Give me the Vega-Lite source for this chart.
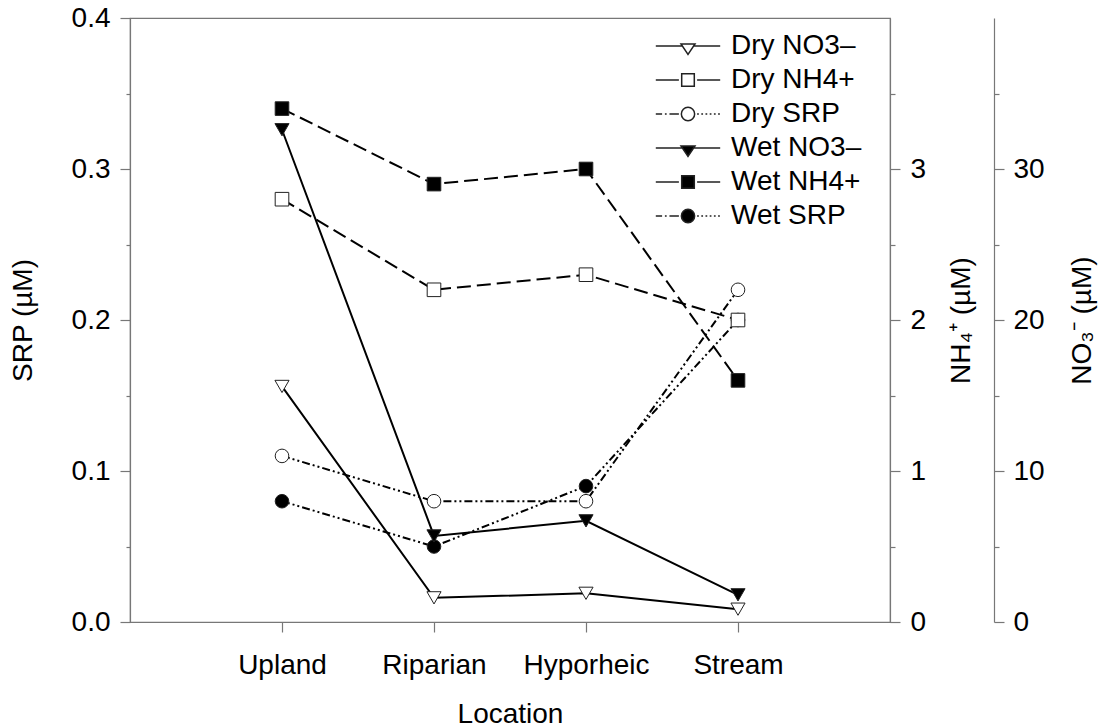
{
  "$schema": "https://vega.github.io/schema/vega-lite/v6.json",
  "width": 760,
  "height": 604,
  "autosize": {"type": "none"},
  "padding": {"left": 130, "top": 18, "right": 214, "bottom": 106},
  "background": "white",
  "config": {
    "view": {"stroke": "#777", "strokeWidth": 1.2},
    "font": "Liberation Sans",
    "axis": {
      "grid": false,
      "labelFont": "Liberation Sans",
      "labelFontSize": 28,
      "labelColor": "#000",
      "titleFont": "Liberation Sans",
      "titleFontSize": 28,
      "titleFontWeight": "normal",
      "titleColor": "#000",
      "domainColor": "#777",
      "tickColor": "#777",
      "domainWidth": 1.2,
      "tickWidth": 1.2
    },
    "legend": {
      "title": null,
      "orient": "none",
      "legendX": 544,
      "legendY": 14,
      "padding": 0,
      "labelFont": "Liberation Sans",
      "labelFontSize": 28,
      "labelColor": "#000",
      "symbolSize": 196,
      "labelOffset": 29,
      "rowPadding": 6
    }
  },
  "datasets": {
    "nutrients": [
      {"location": "Upland", "series": "Dry SRP", "nutrient": "SRP", "value": 0.11},
      {"location": "Riparian", "series": "Dry SRP", "nutrient": "SRP", "value": 0.08},
      {"location": "Hyporheic", "series": "Dry SRP", "nutrient": "SRP", "value": 0.08},
      {"location": "Stream", "series": "Dry SRP", "nutrient": "SRP", "value": 0.22},
      {"location": "Upland", "series": "Wet SRP", "nutrient": "SRP", "value": 0.08},
      {"location": "Riparian", "series": "Wet SRP", "nutrient": "SRP", "value": 0.05},
      {"location": "Hyporheic", "series": "Wet SRP", "nutrient": "SRP", "value": 0.09},
      {"location": "Stream", "series": "Wet SRP", "nutrient": "SRP", "value": 0.2},
      {"location": "Upland", "series": "Dry NH4+", "nutrient": "NH4", "value": 2.8},
      {"location": "Riparian", "series": "Dry NH4+", "nutrient": "NH4", "value": 2.2},
      {"location": "Hyporheic", "series": "Dry NH4+", "nutrient": "NH4", "value": 2.3},
      {"location": "Stream", "series": "Dry NH4+", "nutrient": "NH4", "value": 2.0},
      {"location": "Upland", "series": "Wet NH4+", "nutrient": "NH4", "value": 3.4},
      {"location": "Riparian", "series": "Wet NH4+", "nutrient": "NH4", "value": 2.9},
      {"location": "Hyporheic", "series": "Wet NH4+", "nutrient": "NH4", "value": 3.0},
      {"location": "Stream", "series": "Wet NH4+", "nutrient": "NH4", "value": 1.6},
      {"location": "Upland", "series": "Dry NO3–", "nutrient": "NO3", "value": 15.6},
      {"location": "Riparian", "series": "Dry NO3–", "nutrient": "NO3", "value": 1.6},
      {"location": "Hyporheic", "series": "Dry NO3–", "nutrient": "NO3", "value": 1.9},
      {"location": "Stream", "series": "Dry NO3–", "nutrient": "NO3", "value": 0.85},
      {"location": "Upland", "series": "Wet NO3–", "nutrient": "NO3", "value": 32.6},
      {"location": "Riparian", "series": "Wet NO3–", "nutrient": "NO3", "value": 5.7},
      {"location": "Hyporheic", "series": "Wet NO3–", "nutrient": "NO3", "value": 6.7},
      {"location": "Stream", "series": "Wet NO3–", "nutrient": "NO3", "value": 1.8}
    ]
  },
  "data": {"name": "nutrients"},
  "encoding": {
    "x": {
      "field": "location",
      "type": "nominal",
      "sort": ["Upland", "Riparian", "Hyporheic", "Stream"],
      "scale": {"type": "point", "padding": 1, "domain": ["Upland", "Riparian", "Hyporheic", "Stream"]},
      "axis": {"title": "Location", "labelAngle": 0, "tickSize": 10, "labelPadding": 19, "titlePadding": 21}
    }
  },
  "layer": [
    {
      "transform": [{"filter": "datum.nutrient === 'SRP'"}],
      "encoding": {
        "y": {
          "field": "value",
          "type": "quantitative",
          "scale": {"domain": [0, 0.4], "nice": false, "zero": true},
          "axis": {
            "orient": "left",
            "title": "SRP (µM)",
            "values": [0, 0.05, 0.1, 0.15, 0.2, 0.25, 0.3, 0.35, 0.4],
            "labelExpr": "round(datum.value*100) % 10 == 0 ? format(datum.value, '.1f') : ''",
            "tickSize": {"condition": {"test": "round(datum.value*100) % 10 == 0", "value": 10}, "value": 4},
            "labelPadding": 10,
            "titlePadding": 34
          }
        }
      },
      "layer": [
        {
          "mark": {"type": "line", "color": "black", "strokeWidth": 2, "strokeDash": [8, 3, 2, 3, 2, 3]},
          "encoding": {"detail": {"field": "series", "type": "nominal"}}
        },
        {
          "mark": {"type": "point", "shape": "circle", "filled": true, "size": 185, "stroke": "#222", "strokeWidth": 1, "opacity": 1},
          "encoding": {
            "fill": {
              "field": "series", "type": "nominal",
              "scale": {
                "domain": ["Dry NO3–", "Dry NH4+", "Dry SRP", "Wet NO3–", "Wet NH4+", "Wet SRP"],
                "range": ["white", "white", "white", "black", "black", "black"]
              },
              "legend": {
                "encode": {
                  "symbols": {
                    "stroke": {"value": "black"},
                    "strokeWidth": {"value": 1.8},
                    "opacity": {"value": 1}
                  }
                }
              }
            }
          }
        },
        {
          "transform": [{"filter": "datum.value < 0"}],
          "mark": {"type": "point", "filled": true, "size": 170, "stroke": "black", "strokeWidth": 1.8, "opacity": 1},
          "encoding": {
            "shape": {
              "field": "series", "type": "nominal",
              "scale": {
                "domain": ["Dry NO3–", "Dry NH4+", "Dry SRP", "Wet NO3–", "Wet NH4+", "Wet SRP"],
                "range": [
                  "M-4.6,0H-0.8M0.8,0H4.6M-1,-0.3L1,-0.3L0,1.2Z",
                  "M-4.6,0H-1.3M1.3,0H4.6M-0.9,-0.9H0.9V0.9H-0.9Z",
                  "M-4.6,0H-3.7M-3.3,0H-3.05M-2.65,0H-1.3M1.3,0H1.55M1.9,0H2.15M2.5,0H2.75M3.1,0H3.35M3.7,0H3.95M4.3,0H4.55M-0.95,0A0.95,0.95,0,1,0,0.95,0A0.95,0.95,0,1,0,-0.95,0Z",
                  "M-4.6,0H-0.8M0.8,0H4.6M-1,-0.3L1,-0.3L0,1.2Z",
                  "M-4.6,0H-1.3M1.3,0H4.6M-0.9,-0.9H0.9V0.9H-0.9Z",
                  "M-4.6,0H-3.7M-3.3,0H-3.05M-2.65,0H-1.3M1.3,0H1.55M1.9,0H2.15M2.5,0H2.75M3.1,0H3.35M3.7,0H3.95M4.3,0H4.55M-0.95,0A0.95,0.95,0,1,0,0.95,0A0.95,0.95,0,1,0,-0.95,0Z"
                ]
              },
              "legend": {
                "encode": {
                  "symbols": {
                    "stroke": {"value": "black"},
                    "strokeWidth": {"value": 1.8},
                    "opacity": {"value": 1}
                  }
                }
              }
            },
            "fill": {"field": "series", "type": "nominal"}
          }
        }
      ]
    },
    {
      "transform": [{"filter": "datum.nutrient === 'NH4'"}],
      "encoding": {
        "y": {
          "field": "value",
          "type": "quantitative",
          "scale": {"domain": [0, 4], "nice": false, "zero": true},
          "axis": {
            "orient": "right",
            "title": "NH₄⁺ (µM)",
            "titleAngle": 270,
            "titleBaseline": "top",
            "values": [0, 0.5, 1, 1.5, 2, 2.5, 3, 3.5],
            "labelExpr": "round(datum.value*10) % 10 == 0 ? format(datum.value, 'd') : ''",
            "tickSize": {"condition": {"test": "round(datum.value*10) % 10 == 0", "value": 10}, "value": 5},
            "labelPadding": 10,
            "titlePadding": 22
          }
        }
      },
      "layer": [
        {
          "mark": {"type": "line", "color": "black", "strokeWidth": 2, "strokeDash": [14, 6]},
          "encoding": {"detail": {"field": "series", "type": "nominal"}}
        },
        {
          "mark": {"type": "point", "shape": "square", "filled": true, "size": 185, "stroke": "#222", "strokeWidth": 1, "opacity": 1},
          "encoding": {"fill": {"field": "series", "type": "nominal"}}
        }
      ]
    },
    {
      "transform": [{"filter": "datum.nutrient === 'NO3'"}],
      "encoding": {
        "y": {
          "field": "value",
          "type": "quantitative",
          "scale": {"domain": [0, 40], "nice": false, "zero": true},
          "axis": {
            "orient": "right",
            "offset": 104,
            "title": "NO₃⁻ (µM)",
            "titleAngle": 270,
            "titleBaseline": "top",
            "values": [0, 5, 10, 15, 20, 25, 30, 35],
            "labelExpr": "datum.value % 10 == 0 ? format(datum.value, 'd') : ''",
            "tickSize": {"condition": {"test": "datum.value % 10 == 0", "value": 10}, "value": 5},
            "labelPadding": 9,
            "titlePadding": 24
          }
        }
      },
      "layer": [
        {
          "mark": {"type": "line", "color": "black", "strokeWidth": 2},
          "encoding": {"detail": {"field": "series", "type": "nominal"}}
        },
        {
          "mark": {"type": "point", "shape": "triangle-down", "filled": true, "size": 200, "stroke": "#222", "strokeWidth": 1, "opacity": 1},
          "encoding": {"fill": {"field": "series", "type": "nominal"}}
        }
      ]
    }
  ],
  "resolve": {"scale": {"y": "independent"}}
}
